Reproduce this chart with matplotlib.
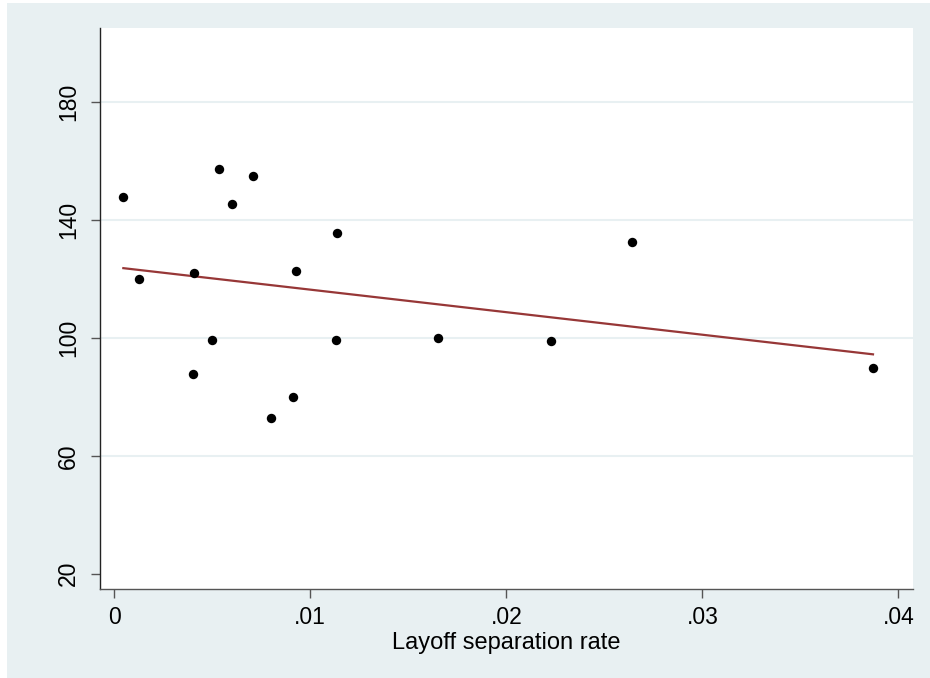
import numpy as np
import matplotlib
matplotlib.use("Agg")
import matplotlib.pyplot as plt
from matplotlib.patches import Rectangle

plt.rcParams['font.family'] = ['Liberation Sans', 'DejaVu Sans']

# layoff separation rate vs outcome
layoff = [0.00047, 0.00129, 0.00405, 0.00400, 0.00499, 0.00536, 0.00603, 0.00708,
          0.00800, 0.00913, 0.00925, 0.01139, 0.01131, 0.01654, 0.02226, 0.02640, 0.03870]
value = [148.0, 119.9, 121.9, 87.8, 99.2, 157.3, 145.4, 154.9,
         73.0, 80.1, 122.8, 135.6, 99.2, 100.0, 98.9, 132.7, 89.7]

xticks = [0, 0.01, 0.02, 0.03, 0.04]
xticklabels = ["0", ".01", ".02", ".03", ".04"]
yticks = [20, 60, 100, 140, 180]
grid_vals = [60, 100, 140, 180]

bg = "#e8f0f2"

fig = plt.figure(figsize=(9.3, 6.78), dpi=100)
fig.patches.append(Rectangle((7 / 930, 0), 1, 675 / 678, transform=fig.transFigure,
                             facecolor=bg, edgecolor="none", zorder=-5))

ax = fig.add_axes([100 / 930, (678 - 589) / 678, 813 / 930, 561 / 678])
ax.set_facecolor("white")

for g in grid_vals:
    ax.axhline(g, color=bg, lw=1.5, zorder=1)

# linear fit
x = np.array(layoff)
y = np.array(value)
b, a = np.polyfit(x, y, 1)
xl = np.array([x.min(), x.max()])
ax.plot(xl, a + b * xl, color="#973737", lw=1.6, zorder=2)

ax.scatter(x, y, s=46, color="black", zorder=3, linewidths=0)

ax.set_xlim(-0.00072, 0.04074)
ax.set_ylim(14.8, 205.2)
ax.set_xticks(xticks)
ax.set_xticklabels(xticklabels)
ax.set_yticks(yticks)
ax.set_yticklabels([str(t) for t in yticks], rotation=90, va="center")

ax.spines['top'].set_visible(False)
ax.spines['right'].set_visible(False)
ax.spines['left'].set_color("#222222")
ax.spines['bottom'].set_color("#555555")
ax.spines['left'].set_linewidth(1.0)
ax.spines['bottom'].set_linewidth(1.0)
ax.tick_params(axis='both', direction='out', length=6.5, width=1.0, color="#555555",
               labelsize=16.5, labelcolor="black")
ax.tick_params(axis='x', pad=6)
ax.tick_params(axis='y', pad=8)

ax.set_xlabel("Layoff separation rate", fontsize=17, labelpad=2)

fig.savefig("out.png", dpi=100, facecolor="white")
